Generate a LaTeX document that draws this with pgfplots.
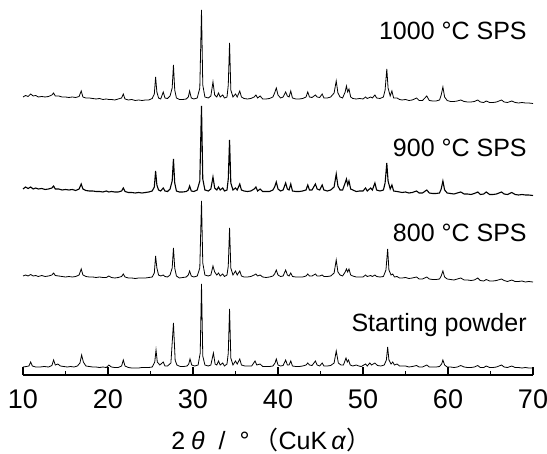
\documentclass[border=0pt]{standalone}
\usepackage{fontspec}
\setmainfont{Liberation Sans}
\newfontfamily\jp{Noto Sans CJK JP}
\usepackage{pgfplots}
\usepackage{pgfplotstable}
\pgfplotsset{compat=1.18}

\pgfplotstableread[row sep=\\]{
x y\\
10.0 1\\ 10.4 1.5\\ 10.7 2\\ 10.9 6\\ 11.1 2\\ 11.5 1\\ 12.0 1\\ 12.5 1.5\\ 13.0 1\\ 13.4 2.5\\ 13.6 8\\ 13.8 3\\ 14.1 4\\ 14.4 2\\ 14.8 1.5\\ 15.2 1\\ 15.6 1.5\\ 16.0 1\\ 16.4 2\\ 16.7 5\\ 16.9 13\\ 17.1 6\\ 17.4 2\\ 17.8 1.5\\ 18.2 1\\ 18.6 1\\ 19.0 0.5\\ 19.4 1\\ 19.8 0.5\\ 20.1 3\\ 20.4 1\\ 20.8 0.5\\ 21.2 0.5\\ 21.6 2\\ 21.8 8\\ 22.0 2\\ 22.4 0.5\\ 22.8 0\\ 23.2 0\\ 23.6 0\\ 24.0 0.5\\ 24.4 0.5\\ 24.8 0.5\\ 25.2 1\\ 25.5 6\\ 25.65 18\\ 25.8 6\\ 26.1 3\\ 26.5 6\\ 26.7 2\\ 27.0 2\\ 27.4 5\\ 27.7 45\\ 27.9 8\\ 28.1 3\\ 28.5 1.5\\ 28.9 1.5\\ 29.3 2\\ 29.5 4\\ 29.65 9\\ 29.85 3\\ 30.2 2\\ 30.6 3\\ 30.85 15\\ 31.0 84\\ 31.15 12\\ 31.4 3\\ 31.8 2\\ 32.1 3\\ 32.4 15\\ 32.6 4\\ 32.8 3\\ 33.0 7\\ 33.2 3\\ 33.5 5\\ 33.7 2\\ 34.0 4\\ 34.15 15\\ 34.3 59\\ 34.45 10\\ 34.7 3\\ 35.0 7\\ 35.2 4\\ 35.5 9\\ 35.7 3\\ 36.1 2\\ 36.5 2\\ 36.9 2\\ 37.3 7\\ 37.5 3\\ 37.9 4\\ 38.2 1.5\\ 38.6 1.5\\ 39.0 1.5\\ 39.4 2\\ 39.65 5\\ 39.8 9\\ 40.0 3\\ 40.3 2\\ 40.6 2.5\\ 40.9 8\\ 41.1 3\\ 41.3 3\\ 41.5 7\\ 41.7 2\\ 42.1 1.5\\ 42.5 1.5\\ 42.9 2\\ 43.3 3\\ 43.5 5\\ 43.7 3\\ 44.0 2.5\\ 44.4 7\\ 44.6 3\\ 44.9 2\\ 45.2 5\\ 45.4 2\\ 45.8 2\\ 46.2 2.5\\ 46.6 5\\ 46.85 17\\ 47.1 5\\ 47.4 3\\ 47.7 3\\ 48.0 10\\ 48.15 6\\ 48.3 8\\ 48.5 3\\ 48.8 2\\ 49.2 3\\ 49.5 2\\ 49.8 1.5\\ 50.1 3\\ 50.3 4\\ 50.5 2\\ 50.8 5\\ 51.0 3\\ 51.4 5\\ 51.7 2.5\\ 52.1 2\\ 52.5 3\\ 52.75 8\\ 52.9 21\\ 53.05 8\\ 53.3 4\\ 53.5 6\\ 53.7 3\\ 54.0 4\\ 54.3 2\\ 54.6 2\\ 55.0 2\\ 55.4 1\\ 55.8 1.5\\ 56.3 2.5\\ 56.6 1\\ 57.0 1\\ 57.5 3\\ 57.8 1\\ 58.2 1\\ 58.6 1\\ 59.0 1.5\\ 59.25 4\\ 59.4 8\\ 59.6 3\\ 59.9 1\\ 60.3 1\\ 60.7 0.5\\ 61.1 1\\ 61.5 2.5\\ 61.9 1\\ 62.3 0.5\\ 62.7 0.5\\ 63.1 1\\ 63.5 2.5\\ 63.8 0.5\\ 64.2 0.5\\ 64.5 2\\ 64.9 0.5\\ 65.3 0.5\\ 65.7 1\\ 66.3 3\\ 66.6 1\\ 67.0 0.5\\ 67.5 2\\ 67.9 0.5\\ 68.3 0.5\\ 68.7 0\\ 69.1 0.5\\ 69.5 0\\ 70.0 0\\
}\startdata

\pgfplotstableread[row sep=\\]{
x y\\
10.0 2\\ 10.3 3\\ 10.6 2\\ 10.9 3.5\\ 11.2 2\\ 11.5 2.5\\ 11.8 1.5\\ 12.2 2.5\\ 12.6 1.5\\ 13.0 2\\ 13.4 3\\ 13.6 5\\ 13.8 2.5\\ 14.2 2\\ 14.6 1.5\\ 15.0 1\\ 15.4 1.5\\ 15.8 1\\ 16.2 1.5\\ 16.6 3\\ 16.85 9\\ 17.05 3\\ 17.4 1.5\\ 17.8 1\\ 18.2 1\\ 18.6 0.5\\ 19.0 1\\ 19.4 0.5\\ 19.8 0.5\\ 20.1 2\\ 20.4 0.5\\ 20.8 0\\ 21.2 0.5\\ 21.6 1.5\\ 21.8 4\\ 22.0 1\\ 22.4 0\\ 22.8 0\\ 23.2 -0.5\\ 23.6 0\\ 24.0 0\\ 24.4 0\\ 24.8 0.5\\ 25.2 1\\ 25.45 5\\ 25.6 22\\ 25.75 10\\ 25.95 3\\ 26.2 2\\ 26.5 3\\ 26.7 1.5\\ 27.0 1\\ 27.3 3\\ 27.55 10\\ 27.7 30\\ 27.85 10\\ 28.05 2\\ 28.4 0\\ 28.8 0.5\\ 29.2 1\\ 29.45 3\\ 29.6 7\\ 29.8 2\\ 30.1 1\\ 30.5 2\\ 30.8 10\\ 31.0 77\\ 31.15 15\\ 31.4 3\\ 31.8 2\\ 32.1 3\\ 32.35 12\\ 32.55 6\\ 32.8 3\\ 33.0 5\\ 33.2 2\\ 33.5 4\\ 33.7 1.5\\ 34.0 3\\ 34.15 12\\ 34.3 50\\ 34.45 10\\ 34.7 3\\ 35.0 7\\ 35.2 3\\ 35.5 7\\ 35.7 2\\ 36.0 1\\ 36.4 1\\ 36.8 1.5\\ 37.2 3\\ 37.4 4\\ 37.6 2\\ 37.9 3\\ 38.2 1\\ 38.6 0.5\\ 39.0 1\\ 39.4 2\\ 39.6 4\\ 39.8 8\\ 40.0 3\\ 40.3 1.5\\ 40.6 2\\ 40.9 8\\ 41.1 3\\ 41.3 2\\ 41.5 5\\ 41.7 1.5\\ 42.1 1\\ 42.5 1\\ 42.9 1\\ 43.3 2\\ 43.5 4\\ 43.7 2\\ 44.0 2\\ 44.4 4\\ 44.6 2\\ 44.9 2\\ 45.2 3\\ 45.4 1.5\\ 45.8 1.5\\ 46.2 2\\ 46.6 5\\ 46.85 18\\ 47.05 6\\ 47.3 3\\ 47.6 2\\ 47.9 6\\ 48.05 9\\ 48.2 6\\ 48.35 9\\ 48.55 3\\ 48.8 2\\ 49.2 1\\ 49.6 1\\ 50.0 1\\ 50.3 3\\ 50.5 1.5\\ 50.9 2.5\\ 51.1 1.5\\ 51.4 3\\ 51.6 1.5\\ 52.0 1\\ 52.4 1.5\\ 52.7 8\\ 52.9 29\\ 53.05 8\\ 53.3 3\\ 53.5 4\\ 53.7 1\\ 54.0 1.5\\ 54.3 0\\ 54.6 0\\ 55.0 0.5\\ 55.4 -0.5\\ 55.8 0\\ 56.3 1\\ 56.6 -1\\ 57.0 -1\\ 57.5 1\\ 57.8 -1\\ 58.2 -1.5\\ 58.6 -1.5\\ 59.0 -1\\ 59.2 2\\ 59.4 7\\ 59.6 1\\ 59.9 -1\\ 60.3 -1.5\\ 60.7 -2\\ 61.1 -1\\ 61.5 0\\ 61.9 -2\\ 62.3 -2\\ 62.7 -2.5\\ 63.1 -2\\ 63.5 0\\ 63.8 -2.5\\ 64.2 -3\\ 64.5 -1.5\\ 64.9 -3\\ 65.3 -3\\ 65.7 -2.5\\ 66.3 -1\\ 66.6 -2.5\\ 67.0 -3.5\\ 67.5 -2\\ 67.9 -3.5\\ 68.3 -3.5\\ 68.7 -3\\ 69.1 -4\\ 69.5 -3.5\\ 70.0 -4\\
}\eightdata

\pgfplotstableread[row sep=\\]{
x y\\
10.0 4\\ 10.3 6\\ 10.6 4.5\\ 10.9 6\\ 11.2 4\\ 11.5 5\\ 11.8 4\\ 12.2 4.5\\ 12.6 3.5\\ 13.0 4\\ 13.4 5\\ 13.6 7\\ 13.8 4\\ 14.2 4\\ 14.6 3\\ 15.0 3.5\\ 15.4 3\\ 15.8 3.5\\ 16.2 2.5\\ 16.6 4\\ 16.85 9\\ 17.05 4\\ 17.4 2.5\\ 17.8 2\\ 18.2 2\\ 18.6 1.5\\ 19.0 1.5\\ 19.4 1\\ 19.8 2\\ 20.1 1\\ 20.4 1.5\\ 20.8 1\\ 21.2 1\\ 21.6 2\\ 21.8 5\\ 22.0 1.5\\ 22.4 0.5\\ 22.8 0.5\\ 23.2 0\\ 23.6 0.5\\ 24.0 0\\ 24.4 0.5\\ 24.8 1\\ 25.2 2\\ 25.45 6\\ 25.6 22\\ 25.75 8\\ 25.95 3\\ 26.2 2\\ 26.5 5\\ 26.7 2\\ 27.0 1.5\\ 27.3 4\\ 27.55 12\\ 27.7 34\\ 27.85 10\\ 28.05 2\\ 28.4 1\\ 28.8 1\\ 29.2 1.5\\ 29.45 3\\ 29.6 7\\ 29.8 2\\ 30.1 1.5\\ 30.5 3\\ 30.8 12\\ 31.0 87\\ 31.15 14\\ 31.4 3\\ 31.8 2\\ 32.1 4\\ 32.35 16\\ 32.55 5\\ 32.8 3\\ 33.0 6\\ 33.2 3\\ 33.5 5\\ 33.7 2\\ 34.0 3\\ 34.15 14\\ 34.3 53\\ 34.45 10\\ 34.7 3\\ 35.0 5\\ 35.2 3\\ 35.5 9\\ 35.7 3\\ 36.0 2\\ 36.4 1.5\\ 36.8 2\\ 37.2 4\\ 37.4 6\\ 37.6 2\\ 37.9 4\\ 38.2 1.5\\ 38.6 1.5\\ 39.0 1.5\\ 39.4 3\\ 39.6 6\\ 39.8 11\\ 40.0 4\\ 40.3 2\\ 40.6 3\\ 40.9 10\\ 41.1 4\\ 41.3 3\\ 41.5 9\\ 41.7 2\\ 42.1 1.5\\ 42.5 1.5\\ 42.9 2\\ 43.3 3\\ 43.5 8\\ 43.7 3\\ 44.0 3\\ 44.4 9\\ 44.6 4\\ 44.9 3\\ 45.2 8\\ 45.4 3\\ 45.8 2\\ 46.2 3\\ 46.6 6\\ 46.85 19\\ 47.05 7\\ 47.3 3\\ 47.6 3\\ 47.9 10\\ 48.05 14\\ 48.2 8\\ 48.35 12\\ 48.55 4\\ 48.8 3\\ 49.2 1.5\\ 49.6 2\\ 50.0 2\\ 50.3 5\\ 50.5 2\\ 50.9 5\\ 51.1 3\\ 51.4 10\\ 51.6 3\\ 52.0 2\\ 52.4 3\\ 52.6 10\\ 52.8 30\\ 52.95 12\\ 53.2 4\\ 53.4 8\\ 53.6 2\\ 54.0 1.5\\ 54.3 1\\ 54.6 0.5\\ 55.0 1\\ 55.4 0\\ 55.8 0.5\\ 56.3 2\\ 56.6 0\\ 57.0 0\\ 57.5 3\\ 57.8 0\\ 58.2 -0.5\\ 58.6 -0.5\\ 59.0 0\\ 59.2 4\\ 59.4 12\\ 59.6 3\\ 59.9 0\\ 60.3 -0.5\\ 60.7 -1\\ 61.1 0\\ 61.5 1\\ 61.9 -1\\ 62.3 -1\\ 62.7 -1.5\\ 63.1 -0.5\\ 63.5 1\\ 63.8 -1.5\\ 64.2 -1\\ 64.5 1\\ 64.9 -1.5\\ 65.3 -1.5\\ 65.7 -1\\ 66.3 1\\ 66.6 -1\\ 67.0 -1.5\\ 67.5 0.5\\ 67.9 -1.5\\ 68.3 -2\\ 68.7 -1.5\\ 69.1 -2\\ 69.5 -2\\ 70.0 -2.5\\
}\ninedata

\pgfplotstableread[row sep=\\]{
x y\\
10.0 3\\ 10.3 4.5\\ 10.6 3.5\\ 10.9 6\\ 11.2 4\\ 11.5 4.5\\ 11.8 3\\ 12.2 3.5\\ 12.6 3\\ 13.0 3.5\\ 13.4 5\\ 13.6 7\\ 13.8 4\\ 14.2 4\\ 14.6 3\\ 15.0 3\\ 15.4 2.5\\ 15.8 3\\ 16.2 2.5\\ 16.6 3.5\\ 16.85 9\\ 17.05 3\\ 17.4 2\\ 17.8 2\\ 18.2 1.5\\ 18.6 1\\ 19.0 1.5\\ 19.4 0.5\\ 19.8 1\\ 20.1 0.5\\ 20.4 0.5\\ 20.8 0\\ 21.2 1\\ 21.6 2\\ 21.8 6\\ 22.0 1\\ 22.4 0\\ 22.8 0.5\\ 23.2 -0.5\\ 23.6 0\\ 24.0 -0.5\\ 24.4 0\\ 24.8 0\\ 25.2 1.5\\ 25.45 6\\ 25.6 23\\ 25.75 8\\ 25.95 2\\ 26.2 1\\ 26.5 8\\ 26.7 2\\ 27.0 1.5\\ 27.3 4\\ 27.55 12\\ 27.7 35\\ 27.85 10\\ 28.05 2\\ 28.4 0.5\\ 28.8 0.5\\ 29.2 1\\ 29.45 3\\ 29.6 9\\ 29.8 2\\ 30.1 1\\ 30.5 2\\ 30.8 12\\ 31.0 90\\ 31.15 15\\ 31.4 3\\ 31.8 2\\ 32.1 4\\ 32.35 18\\ 32.55 5\\ 32.8 3\\ 33.0 7\\ 33.2 3\\ 33.5 5\\ 33.7 2\\ 34.0 3\\ 34.15 15\\ 34.3 57\\ 34.45 10\\ 34.7 3\\ 35.0 6\\ 35.2 3\\ 35.5 9\\ 35.7 3\\ 36.0 1.5\\ 36.4 1\\ 36.8 1.5\\ 37.2 3\\ 37.4 5\\ 37.6 2\\ 37.9 4\\ 38.2 1\\ 38.6 1\\ 39.0 1.5\\ 39.4 3\\ 39.6 7\\ 39.8 12\\ 40.0 5\\ 40.3 2\\ 40.6 3\\ 40.9 8\\ 41.1 4\\ 41.3 3\\ 41.5 9\\ 41.7 2\\ 42.1 1\\ 42.5 1\\ 42.9 1.5\\ 43.3 3\\ 43.5 8\\ 43.7 3\\ 44.0 2.5\\ 44.4 5\\ 44.6 3\\ 44.9 2.5\\ 45.2 6\\ 45.4 2\\ 45.8 2\\ 46.2 3\\ 46.6 7\\ 46.85 19\\ 47.05 7\\ 47.3 3\\ 47.6 2\\ 47.9 8\\ 48.05 14\\ 48.2 8\\ 48.35 11\\ 48.55 3\\ 48.8 1.5\\ 49.2 1\\ 49.6 1.5\\ 50.0 1\\ 50.3 3\\ 50.5 1.5\\ 50.9 3\\ 51.1 2\\ 51.4 5\\ 51.6 2\\ 52.0 1.5\\ 52.4 3\\ 52.6 10\\ 52.8 31\\ 52.95 12\\ 53.2 4\\ 53.4 9\\ 53.6 2\\ 54.0 2\\ 54.3 0.5\\ 54.6 0\\ 55.0 0.5\\ 55.4 -0.5\\ 55.8 0\\ 56.3 2\\ 56.6 -0.5\\ 57.0 -0.5\\ 57.5 4\\ 57.8 -0.5\\ 58.2 -1\\ 58.6 -1\\ 59.0 0\\ 59.2 5\\ 59.4 13\\ 59.6 3\\ 59.9 -0.5\\ 60.3 -1.5\\ 60.7 -1.5\\ 61.1 -1\\ 61.5 0\\ 61.9 -1.5\\ 62.3 -2\\ 62.7 -2\\ 63.1 -1.5\\ 63.5 0\\ 63.8 -2\\ 64.2 -2.5\\ 64.5 -1\\ 64.9 -2.5\\ 65.3 -2.5\\ 65.7 -2\\ 66.3 0\\ 66.6 -2\\ 67.0 -2.5\\ 67.5 -1\\ 67.9 -2.5\\ 68.3 -3\\ 68.7 -2.5\\ 69.1 -3\\ 69.5 -3\\ 70.0 -3.5\\
}\thousanddata

\begin{document}
\fontsize{12.5}{15}\selectfont
\begin{tikzpicture}
\begin{axis}[
  name=ax,
  scale only axis,
  width=255pt, height=187.5pt,
  xmin=10, xmax=70, ymin=0, ymax=375,
  axis x line=bottom, axis y line=none,
  x axis line style={-, line width=0.6pt},
  clip=false,
  xtick={10,20,...,70},
  minor xtick={15,25,...,65},
  tick align=inside,
  major tick length=4pt, minor tick length=2pt,
  tick style={black, line width=0.6pt},
  xticklabel style={font=\fontsize{13.5}{16}\selectfont, yshift=-3pt},
  /pgf/number format/assume math mode=true,
  cycle list={{black, solid, line width=0.55pt, no markers}},
]
\coordinate (BL) at (axis cs:10,0);
\coordinate (TR) at (axis cs:70,375);
\addplot table[x=x, y expr=\thisrow{y}+7] {\startdata};
\addplot table[x=x, y expr=\thisrow{y}+97] {\eightdata};
\addplot table[x=x, y expr=\thisrow{y}+182] {\ninedata};
\addplot table[x=x, y expr=\thisrow{y}+275] {\thousanddata};
\node[anchor=east, inner sep=0pt] at (axis cs:69.3,344) {1000 °C SPS};
\node[anchor=east, inner sep=0pt] at (axis cs:69.3,227) {900 °C SPS};
\node[anchor=east, inner sep=0pt] at (axis cs:69.3,142) {800 °C SPS};
\node[anchor=east, inner sep=0pt] at (axis cs:69.3,50) {Starting powder};
\node[anchor=center, inner sep=0pt] at (axis cs:39.2,-65) {2\hspace{3pt}\textit{θ}\hspace{7pt}/\hspace{7pt}°\hspace{2pt}{\jp （}CuK\hspace{2pt}\textit{α}{\jp ）}};
\end{axis}
\pgfresetboundingbox
\path ([shift={(-11.5pt,-39pt)}]BL) rectangle ([shift={(7pt,0pt)}]TR);
\end{tikzpicture}
\end{document}
